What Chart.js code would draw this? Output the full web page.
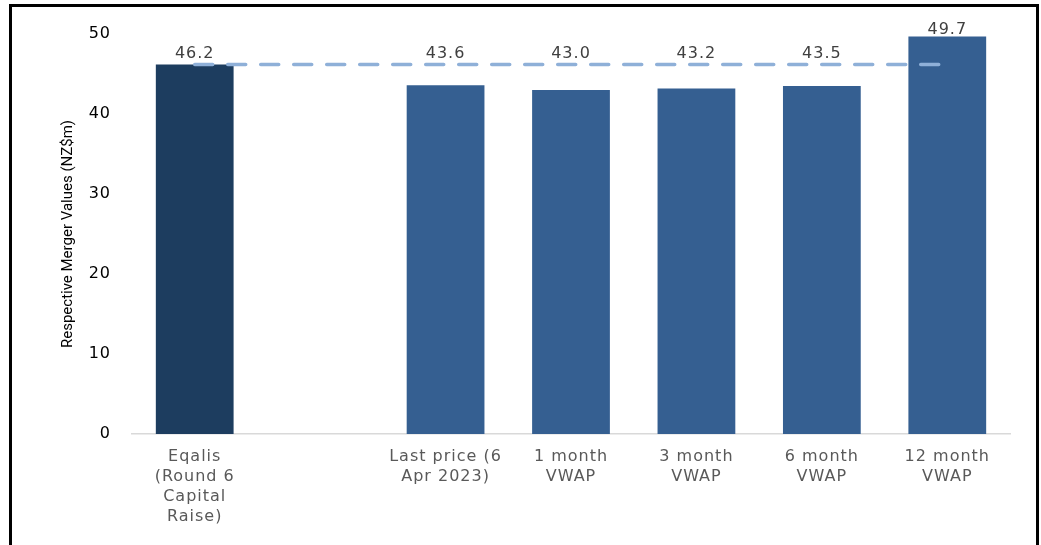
<!DOCTYPE html>
<html>
<head>
<meta charset="utf-8">
<script src="https://cdn.jsdelivr.net/npm/chart.js@4.4.1/dist/chart.umd.min.js"></script>
<style>
  body { margin: 0; background: #fff; }
  #wrap { position: relative; width: 1041px; height: 545px; }
  #frame { position: absolute; left: 9px; top: 4px; width: 1024px; height: 560px;
    border-left: 3px solid #000; border-top: 3px solid #000; border-right: 3px solid #000; pointer-events: none; }
</style>
</head>
<body>
<div id="wrap">
  <canvas id="myChart" width="1041" height="545"></canvas>
  <div id="frame"></div>
</div>
<script>
// dane wykresu
const categories = [
  ['Eqalis', '(Round 6', 'Capital', 'Raise)'],
  '',
  ['Last price (6', 'Apr 2023)'],
  ['1 month', 'VWAP'],
  ['3 month', 'VWAP'],
  ['6 month', 'VWAP'],
  ['12 month', 'VWAP']
]
const values = [46.2, null, 43.6, 43.0, 43.2, 43.5, 49.7]
const refValue = 46.2
const refLine = categories.map(() => refValue)
const barColors = ['#1d3d5f', null, '#355f91', '#355f91', '#355f91', '#355f91', '#355f91']
const yTitle = 'Respective Merger Values (NZ$m)'

// szersze litery jak w oryginale
const spacing = {
  id: 'spacing',
  beforeDraw(chart) { chart.ctx.letterSpacing = '1px' },
  afterDraw(chart) { chart.ctx.letterSpacing = '0px' }
}

// etykiety nad slupkami + tytul osi Y
const valueLabels = {
  id: 'valueLabels',
  afterDatasetsDraw(chart) {
    const ctx = chart.ctx
    const y = chart.scales.y
    const meta = chart.getDatasetMeta(1)
    ctx.save()
    ctx.letterSpacing = '1px'
    ctx.font = '16px "DejaVu Sans"'
    ctx.fillStyle = '#404040'
    ctx.textAlign = 'center'
    ctx.textBaseline = 'alphabetic'
    for (let i = 0; i < values.length; i++) {
      if (values[i] == null) continue
      const top = Math.max(values[i], refValue)
      const gap = values[i] > refValue ? 2 : 6
      ctx.fillText(values[i].toFixed(1), meta.data[i].x, y.getPixelForValue(top) - gap)
    }
    ctx.letterSpacing = '0px'
    ctx.font = '15px Roboto'
    ctx.fillStyle = '#000'
    ctx.textBaseline = 'middle'
    ctx.translate(68, (y.top + y.bottom) / 2)
    ctx.rotate(-Math.PI / 2)
    ctx.fillText(yTitle, 0, 0)
    ctx.restore()
  }
}

const ctx = document.getElementById('myChart')

new Chart(ctx, {
  data: {
    labels: categories,
    datasets: [{
      type: 'line',
      data: refLine,
      borderColor: '#8fb0d8',
      borderWidth: 3.5,
      borderDash: [18, 15],
      borderCapStyle: 'round',
      pointRadius: 0,
      order: 0
    }, {
      type: 'bar',
      data: values,
      backgroundColor: barColors,
      barPercentage: 0.62,
      categoryPercentage: 1,
      order: 1
    }]
  },
  options: {
    responsive: false,
    animation: false,
    layout: { padding: { left: 50, right: 31, top: 34, bottom: 0 } },
    plugins: { legend: { display: false }, tooltip: { enabled: false } },
    scales: {
      x: {
        grid: { display: false, drawTicks: false },
        border: { color: '#d9d9d9', width: 1.5 },
        ticks: { color: '#595959', font: { family: 'DejaVu Sans', size: 16, lineHeight: 1.25 }, padding: 13, maxRotation: 0, autoSkip: false },
        afterFit(scale) { scale.height = 111 }
      },
      y: {
        min: 0,
        max: 50,
        grid: { display: false, drawTicks: false },
        border: { display: false },
        ticks: { stepSize: 10, color: '#000', font: { family: 'DejaVu Sans', size: 16 }, padding: 21 },
        afterFit(scale) { scale.width = 82 }
      }
    }
  },
  plugins: [spacing, valueLabels]
})
</script>
</body>
</html>
